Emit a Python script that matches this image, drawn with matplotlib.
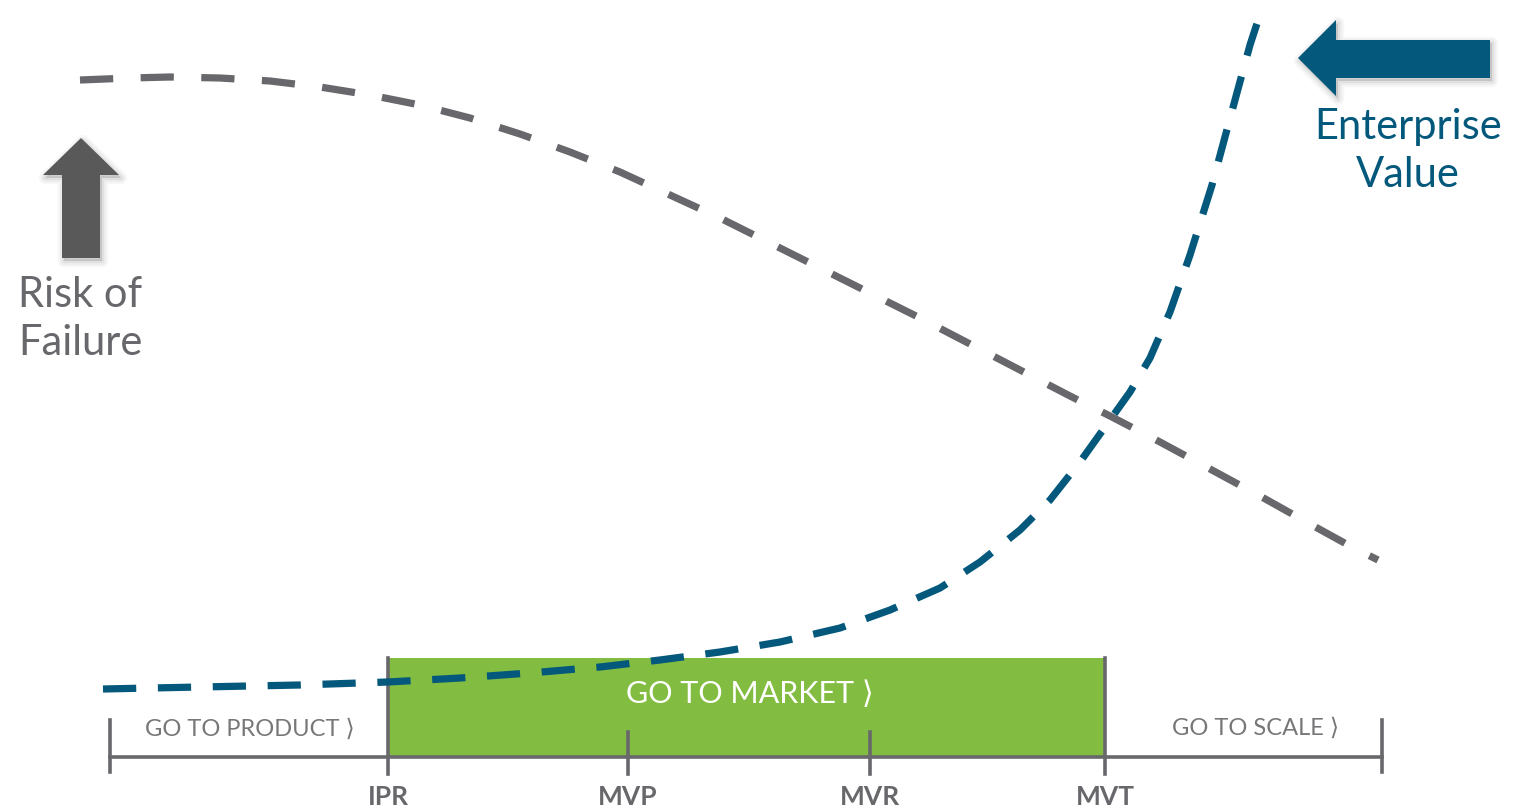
"""
Risk of failure vs enterprise value across the go-to stages.
"""
import matplotlib
matplotlib.use("Agg")
import matplotlib.pyplot as plt
from matplotlib.patches import Rectangle, Polygon

# curve points (x, y in picture pixels, y down)
risk_x = [80, 130, 170, 220, 270, 320, 370, 420, 470, 520, 570, 620, 670, 720,
          770, 820, 870, 920, 970, 1020, 1070, 1110, 1160, 1210, 1260, 1310, 1350, 1378]
risk_y = [80, 78, 77, 78, 81, 87, 95, 105, 118, 134, 152, 172, 195, 218,
          243, 268, 293, 318, 344, 370, 396, 416, 442, 469, 496, 524, 546, 560]

value_x = [103, 200, 300, 388, 460, 530, 600, 660, 720, 780, 840, 890, 940, 980,
           1020, 1050, 1080, 1110, 1130, 1150, 1170, 1190, 1212, 1235, 1250, 1263]
value_y = [689, 687, 685, 682, 678, 673, 667, 660, 652, 642, 628, 610, 588, 562,
           530, 500, 462, 420, 392, 358, 312, 255, 185, 100, 45, 5]

stage_names = ["IPR", "MVP", "MVR", "MVT"]
stage_x = [388, 628, 870, 1105]
timeline_start, timeline_end = 110, 1382

GREY = "#68686c"
BLUE = "#03587c"
GREEN = "#82bd41"
FONT = ["Lato", "DejaVu Sans"]
CHEV = "\u27e9"

fig = plt.figure(figsize=(15.26, 8.10), dpi=100)
ax = fig.add_axes([0, 0, 1, 1])
ax.set_xlim(0, 1526)
ax.set_ylim(810, 0)
ax.axis("off")

# go-to-market band
ax.add_patch(Rectangle((stage_x[0], 658), stage_x[3] - stage_x[0], 99,
                       facecolor=GREEN, edgecolor="none", zorder=1))

# timeline
ax.plot([timeline_start, timeline_end], [757, 757], color=GREY, lw=2.6, zorder=3)
for xe in (timeline_start, timeline_end):
    ax.plot([xe, xe], [720, 772], color=GREY, lw=2.6, zorder=3)
for name, xs in zip(stage_names, stage_x):
    top = 658 if name in ("IPR", "MVT") else 732
    ax.plot([xs, xs], [top, 774], color=GREY, lw=2.6, zorder=3)
    ax.text(xs, 797, name, ha="center", va="center", fontsize=19,
            fontweight="bold", color=GREY, family=FONT, fontstretch="condensed")

ax.text(250, 729, "GO TO PRODUCT " + CHEV, ha="center", va="center",
        fontsize=17, color="#77777a", family=FONT)
ax.text(750, 694, "GO TO MARKET " + CHEV, ha="center", va="center",
        fontsize=22, color="white", family=FONT)
ax.text(1256, 728, "GO TO SCALE " + CHEV, ha="center", va="center",
        fontsize=17, color="#77777a", family=FONT)

# curves
ax.plot(risk_x, risk_y, color=GREY, lw=5.2, dashes=(4.6, 3.8), zorder=4)
ax.plot(value_x, value_y, color=BLUE, lw=5.2, dashes=(4.6, 3.0), zorder=5)

# arrows with a soft shadow
up_arrow = [(62, 258), (62, 175), (43, 175), (81, 138), (119, 175), (100, 175), (100, 258)]
left_arrow = [(1490, 40), (1336, 40), (1336, 20), (1298, 58), (1336, 96), (1336, 78), (1490, 78)]
for pts, col in ((up_arrow, "#595959"), (left_arrow, BLUE)):
    for k, a in ((9, 0.03), (6, 0.04), (3, 0.05)):
        ax.add_patch(Polygon([(x + 2, y + 3) for x, y in pts], closed=True,
                             facecolor="black", edgecolor="black", lw=k,
                             alpha=a, zorder=6, joinstyle="round"))
    ax.add_patch(Polygon(pts, closed=True, facecolor=col, edgecolor="none", zorder=7))

ax.text(18, 319, "Risk of\nFailure", ha="left", va="center", fontsize=30,
        color=GREY, family=FONT, linespacing=1.3)
ax.text(1408, 151, "Enterprise\nValue", ha="center", va="center", fontsize=30,
        color=BLUE, family=FONT, linespacing=1.3)

plt.savefig("out.png", dpi=100)
plt.close()
